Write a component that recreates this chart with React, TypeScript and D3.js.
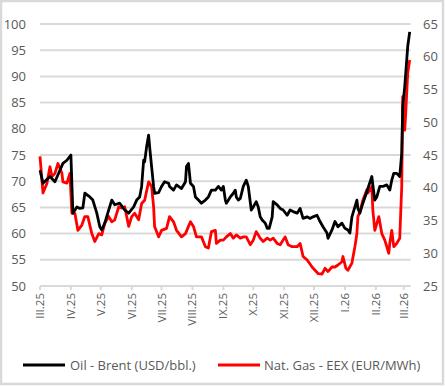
import React from "react";
import * as d3 from "d3";

// Days since 2025-03-01 and values
const oilDays = [0,3,10,15,20,23,27,31,33,37,40,43,45,50,53,57,60,62,65,68,72,75,80,85,89,94,97,100,102,104,105,107,109,110,112,114,115,119,122,125,129,130,134,137,142,146,147,149,151,154,156,159,162,166,169,172,176,179,182,184,186,187,191,194,196,197,199,201,204,207,209,212,214,217,219,221,223,226,228,230,233,234,238,241,244,248,251,254,258,261,264,268,271,274,278,281,284,288,289,293,296,299,303,306,309,311,313,316,318,319,321,324,328,333,334,336,338,341,344,348,351,353,355,358,361,363,364,366,368,369,371];
const oilValues = [72.1,69.6,70.9,69.9,72.1,73.4,74.0,75.0,63.9,65.1,64.8,64.9,67.7,67.0,66.4,63.9,61.3,60.7,62.0,63.9,66.4,65.5,65.8,64.5,63.9,65.1,66.4,67.0,69.0,74.0,73.7,76.6,78.8,76.6,72.8,69.0,67.7,67.8,69.0,69.9,69.6,69.0,68.3,69.3,68.6,69.9,72.8,73.4,69.6,69.0,67.0,66.4,65.8,66.4,67.0,68.3,68.3,69.0,68.3,69.0,66.4,65.8,67.0,67.7,68.3,67.0,66.4,66.7,69.0,70.2,69.0,64.5,65.1,66.1,65.1,63.2,62.6,62.0,61.0,61.0,63.2,66.1,65.5,64.8,64.5,63.5,64.5,64.2,63.9,64.8,62.9,63.2,62.9,63.2,63.5,62.3,61.3,60.1,59.1,60.7,62.3,61.3,62.0,61.0,60.7,60.1,63.2,65.1,66.4,64.8,63.9,65.8,68.0,70.9,69.3,66.4,67.0,69.0,69.0,69.3,68.3,70.2,71.5,71.5,70.9,75.3,84.2,88.0,93.1,95.7,98.5];

const gasDays = [0,3,7,10,12,15,18,22,23,27,30,32,35,38,42,45,48,52,55,59,62,65,69,72,75,79,82,85,89,92,95,99,102,105,109,112,114,115,119,122,127,130,134,137,142,146,149,151,154,157,162,166,169,172,176,177,181,184,187,191,194,197,201,204,207,211,214,217,221,224,228,231,234,238,241,246,249,253,258,261,264,268,273,276,279,283,286,289,293,296,299,303,304,307,309,313,316,318,319,321,324,328,329,333,334,336,340,343,346,350,351,353,355,358,361,363,364,366,367,369,371];
const gasValues = [44.8,39.2,40.7,43.2,41.7,42.2,43.7,42.2,40.9,40.7,42.2,36.1,36.1,33.5,34.3,35.6,35.6,33.0,31.8,33.0,32.8,34.6,35.6,34.8,35.1,37.1,36.9,37.1,34.1,35.6,36.1,35.1,37.6,38.1,40.9,40.2,37.1,34.1,32.5,33.5,33.8,35.6,34.8,33.5,32.5,33.0,34.1,34.8,34.1,32.5,32.5,31.0,30.8,33.3,33.5,31.5,32.0,32.0,32.5,33.0,32.3,32.8,32.3,32.5,32.5,31.3,32.0,33.3,32.3,31.8,32.3,32.0,32.3,31.5,31.3,32.5,31.3,31.0,31.0,31.5,29.5,29.0,27.9,27.4,26.9,26.8,27.7,27.2,27.9,27.9,28.2,28.7,29.5,27.7,27.4,28.5,31.0,33.0,35.6,36.3,38.1,39.7,39.2,40.2,36.6,33.5,35.6,33.0,32.0,30.0,31.5,33.5,31.0,31.5,32.3,40.2,53.9,48.8,51.4,57.5,59.5];

const monthLabels = ["III.25","IV.25","V.25","VI.25","VII.25","VIII.25","IX.25","X.25","XI.25","XII.25","I.26","II.26","III.26"];
const leftTicks = [50,55,60,65,70,75,80,85,90,95,100];
const rightTicks = [25,30,35,40,45,50,55,60,65];
const legendLabels = ["Oil - Brent (USD/bbl.)", "Nat. Gas - EEX (EUR/MWh)"];

const FONT = "'Open Sans', sans-serif";
const GREY = "#595959";
const GRID = "#d9d9d9";

export default function App() {
  const start = new Date(2025, 2, 1);
  const dayToDate = (d: number) => d3.timeDay.offset(start, d);
  const x = d3.scaleTime().domain([start, dayToDate(372)]).range([40, 410.7]);
  const yL = d3.scaleLinear().domain([50, 100]).range([286, 24]);
  const yR = d3.scaleLinear().domain([25, 65]).range([286, 24]);

  const monthDates = monthLabels.map((_, i) => d3.timeMonth.offset(start, i));

  const oilLine = d3.line<number>()
    .x((_, i) => x(dayToDate(oilDays[i])))
    .y((v) => yL(v));
  const gasLine = d3.line<number>()
    .x((_, i) => x(dayToDate(gasDays[i])))
    .y((v) => yR(v));

  return (
    <svg width={445} height={386} style={{ position: "absolute", left: 0, top: 0 }} fontFamily={FONT}>
      <rect x={0} y={0} width={445} height={386} fill="#fff" />
      <rect x={1} y={1} width={442} height={383} fill="none" stroke={GRID} strokeWidth={2.5} />
      {leftTicks.slice(1).map((t) => (
        <line key={t} x1={40} x2={410.7} y1={yL(t)} y2={yL(t)} stroke={GRID} strokeWidth={2} />
      ))}
      <line x1={40} x2={410.7} y1={286} y2={286} stroke={GRID} strokeWidth={2} />
      {monthDates.map((d, i) => (
        <g key={i} transform={`translate(${x(d)},286)`}>
          <line y1={0} y2={4} stroke={GRID} strokeWidth={2} />
          <text transform="rotate(-90)" x={-7} y={4} textAnchor="end" fontSize={11.5} fill={GREY}>{monthLabels[i]}</text>
        </g>
      ))}
      {leftTicks.map((t) => (
        <text key={t} x={26} y={yL(t) + 4.5} textAnchor="end" fontSize={13} fill={GREY}>{t}</text>
      ))}
      {rightTicks.map((t) => (
        <text key={t} x={423} y={yR(t) + 4.5} textAnchor="start" fontSize={13} fill={GREY}>{t}</text>
      ))}
      <path d={gasLine(gasValues) || ""} fill="none" stroke="#ff0000" strokeWidth={2.8} strokeLinejoin="round" />
      <path d={oilLine(oilValues) || ""} fill="none" stroke="#000" strokeWidth={2.8} strokeLinejoin="round" />
      <g>
        <line x1={23} x2={65} y1={365} y2={365} stroke="#000" strokeWidth={2.8} />
        <text x={70} y={369.5} fontSize={13} fill={GREY}>{legendLabels[0]}</text>
        <line x1={218} x2={260} y1={365} y2={365} stroke="#ff0000" strokeWidth={2.8} />
        <text x={264} y={369.5} fontSize={13} fill={GREY}>{legendLabels[1]}</text>
      </g>
    </svg>
  );
}
